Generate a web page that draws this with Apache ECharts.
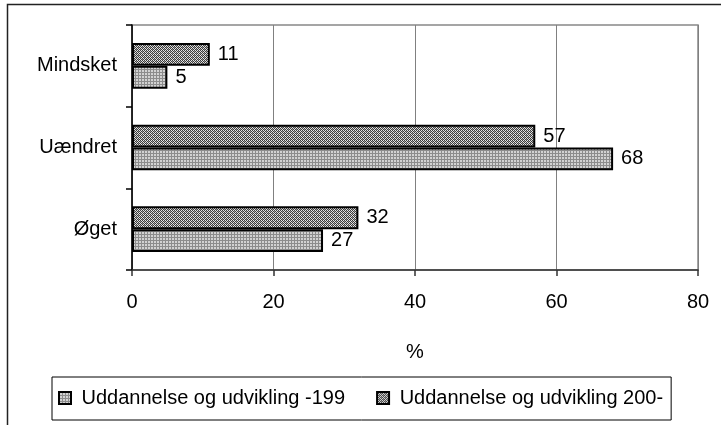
<!DOCTYPE html>
<html>
<head>
<meta charset="utf-8">
<script src="https://cdn.jsdelivr.net/npm/echarts@6/dist/echarts.min.js"></script>
<style>
  html, body { margin: 0; padding: 0; background: #fff; }
  #main { width: 721px; height: 425px; }
</style>
</head>
<body>
<div id="main"></div>
<script>
var categories = ['Øget', 'Uændret', 'Mindsket'];
var seriesNames = ['Uddannelse og udvikling -199', 'Uddannelse og udvikling 200-'];
var valuesOld = [27, 68, 5];
var valuesNew = [32, 57, 11];
var xTicks = [0, 20, 40, 60, 80];

var font = "'Liberation Sans', Arial, sans-serif";

// small tiled fills that imitate the old spreadsheet patterns
function makePattern(size, fn) {
    var c = document.createElement('canvas');
    c.width = size;
    c.height = size;
    var ctx = c.getContext('2d');
    for (var x = 0; x < size; x++) {
        for (var y = 0; y < size; y++) {
            ctx.fillStyle = fn(x, y);
            ctx.fillRect(x, y, 1, 1);
        }
    }
    return c;
}
var dotted = makePattern(3, function (x, y) {
    return (x % 3 !== 0 && y % 3 !== 0) ? '#d2d2d2' : '#8c8c8c';
});
var hatched = makePattern(4, function (x, y) {
    if ((x + y) % 2 === 0) return '#3c3c3c';
    return ((x + y) % 4 === 1 && x % 2 === 0) ? '#9a9a9a' : '#e4e4e4';
});

var chartDom = document.getElementById('main');
var myChart = echarts.init(chartDom);
var option;

var labelStyle = {
    show: true,
    position: 'right',
    distance: 8,
    color: '#000',
    fontFamily: font,
    fontSize: 20
};

option = {
    animation: false,
    backgroundColor: '#fff',
    graphic: [{
        type: 'rect',
        shape: { x: 7.5, y: 4.5, width: 730, height: 440 },
        style: { fill: 'none', stroke: '#222', lineWidth: 1.5 },
        silent: true
    }],
    grid: {
        left: 132,
        top: 25,
        right: 23,
        bottom: 155,
        show: true,
        borderColor: '#888',
        borderWidth: 1.5
    },
    legend: {
        data: seriesNames,
        left: 52,
        top: 377,
        orient: 'horizontal',
        icon: 'rect',
        padding: [11, 8, 12, 6],
        itemGap: 31,
        itemWidth: 12,
        itemHeight: 12,
        borderColor: '#000',
        borderWidth: 1,
        selectedMode: false,
        formatter: function (name) { return ' ' + name; },
        textStyle: { color: '#000', fontFamily: font, fontSize: 20 }
    },
    xAxis: {
        type: 'value',
        min: xTicks[0],
        max: xTicks[xTicks.length - 1],
        interval: 20,
        name: '%',
        nameLocation: 'middle',
        nameGap: 72,
        nameTextStyle: { color: '#000', fontFamily: font, fontSize: 20 },
        axisLine: { show: true, lineStyle: { color: '#333', width: 1.5 } },
        axisTick: { show: true, length: 6, lineStyle: { color: '#333', width: 1.5 } },
        axisLabel: { color: '#000', fontFamily: font, fontSize: 20, margin: 22 },
        splitLine: { show: true, lineStyle: { color: '#808080', width: 1 } }
    },
    yAxis: {
        type: 'category',
        data: categories,
        axisLine: { show: true, lineStyle: { color: '#000', width: 1.5 } },
        axisTick: { show: true, length: 6, lineStyle: { color: '#000', width: 1.5 } },
        axisLabel: { color: '#000', fontFamily: font, fontSize: 20, margin: 15 },
        splitLine: { show: false }
    },
    series: [{
        name: seriesNames[1],
        type: 'bar',
        data: valuesNew,
        barGap: '0%',
        barCategoryGap: '44%',
        itemStyle: { color: { image: hatched, repeat: 'repeat' }, borderColor: '#000', borderWidth: 2 },
        label: labelStyle
    }, {
        name: seriesNames[0],
        type: 'bar',
        data: valuesOld,
        barGap: '0%',
        barCategoryGap: '44%',
        itemStyle: { color: { image: dotted, repeat: 'repeat' }, borderColor: '#000', borderWidth: 2 },
        label: labelStyle
    }]
};

option && myChart.setOption(option);
</script>
</body>
</html>
